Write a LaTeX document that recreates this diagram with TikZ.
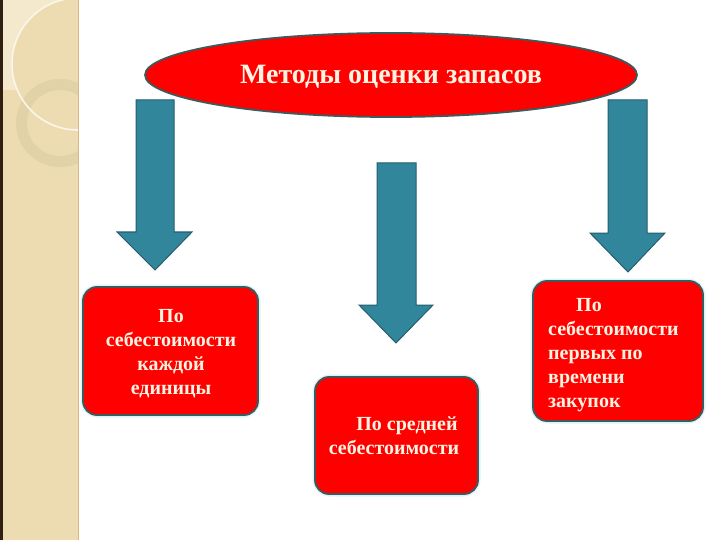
\documentclass[tikz,border=0pt]{standalone}
\usepackage{fontspec}
\setmainfont{Liberation Serif}
\usetikzlibrary{shapes.geometric}
\definecolor{sidebar}{HTML}{EDDCB2}
\definecolor{sidelight}{HTML}{F4E9CC}
\definecolor{ringc}{HTML}{E2D2A8}
\definecolor{boxred}{HTML}{FF0000}
\definecolor{boxline}{HTML}{3D5A5C}
\definecolor{arrowfill}{HTML}{31869C}
\definecolor{arrowline}{HTML}{235E6C}
\definecolor{txt}{HTML}{FFF3E2}
\definecolor{halo}{HTML}{DDF3F6}
\tikzset{
  redbox/.style={draw=boxline, line width=1.8pt, fill=boxred, rounded corners=14pt, inner sep=0pt},
  boxtext/.style={text=txt, font=\bfseries\fontsize{20}{24}\selectfont, inner sep=0pt},
  downarrow/.style={fill=arrowfill, draw=arrowline, line width=1pt, line join=miter},
}
\begin{document}
\begin{tikzpicture}[x=1pt,y=-1pt]
\useasboundingbox (0,0) rectangle (720,540);
\fill[white] (0,0) rectangle (720,540);
% sidebar
\fill[sidebar] (0,0) rectangle (78,540);
\begin{scope}
  \clip (0,0) rectangle (78,540);
  \fill[sidelight] (0,0) rectangle (78,90);
  \fill[sidebar] (78,64) circle (66);
  \draw[ringc, line width=11pt] (60,123) circle (38.5);
  \draw[white!75!sidebar, line width=1.6pt] (78,64) circle (66);
\end{scope}
\draw[black!75!brown, line width=2.5pt] (1.25,0) -- (1.25,540);
\draw[brown!40!sidebar, line width=1pt] (78,0) -- (78,540);
% title
\node[ellipse, draw=boxline, line width=1.8pt, fill=boxred, minimum width=492pt, minimum height=84pt, inner sep=0pt] (title) at (391,75) {};
\node[text=txt, font=\bfseries\fontsize{28}{32}\selectfont, inner sep=0pt] (titletext) at (391,77) {Методы оценки запасов};
% arrows
\draw[downarrow] (136,100) -- (174,100) -- (174,232) -- (192,232) -- (155,270) -- (117,232) -- (136,232) -- cycle;
\draw[downarrow] (377,163) -- (416,163) -- (416,305) -- (433,305) -- (396,343) -- (359,305) -- (377,305) -- cycle;
\draw[downarrow] (608,100) -- (647,100) -- (647,233) -- (665,233) -- (628,272) -- (590,233) -- (608,233) -- cycle;
% boxes
\draw[halo, line width=5pt, rounded corners=15pt] (83,287) rectangle (258,415);
\draw[halo, line width=5pt, rounded corners=15pt] (315,377) rectangle (478,494);
\draw[halo, line width=5pt, rounded corners=15pt] (533,281) rectangle (703,421);
\draw[redbox] (83,287) rectangle (258,415);
\draw[redbox] (315,377) rectangle (478,494);
\draw[redbox] (533,281) rectangle (703,421);
\node[boxtext, align=center] (b1) at (171,354) {По\\себестоимости\\каждой\\единицы};
\node[boxtext, align=center] (b2) at (394,436) {\hspace*{1.3em}По средней\\себестоимости};
\node[boxtext, align=left, anchor=west] (b3) at (548,355) {\hspace*{1.4em}По\\себестоимости\\первых по\\времени\\закупок};
\end{tikzpicture}
\end{document}
